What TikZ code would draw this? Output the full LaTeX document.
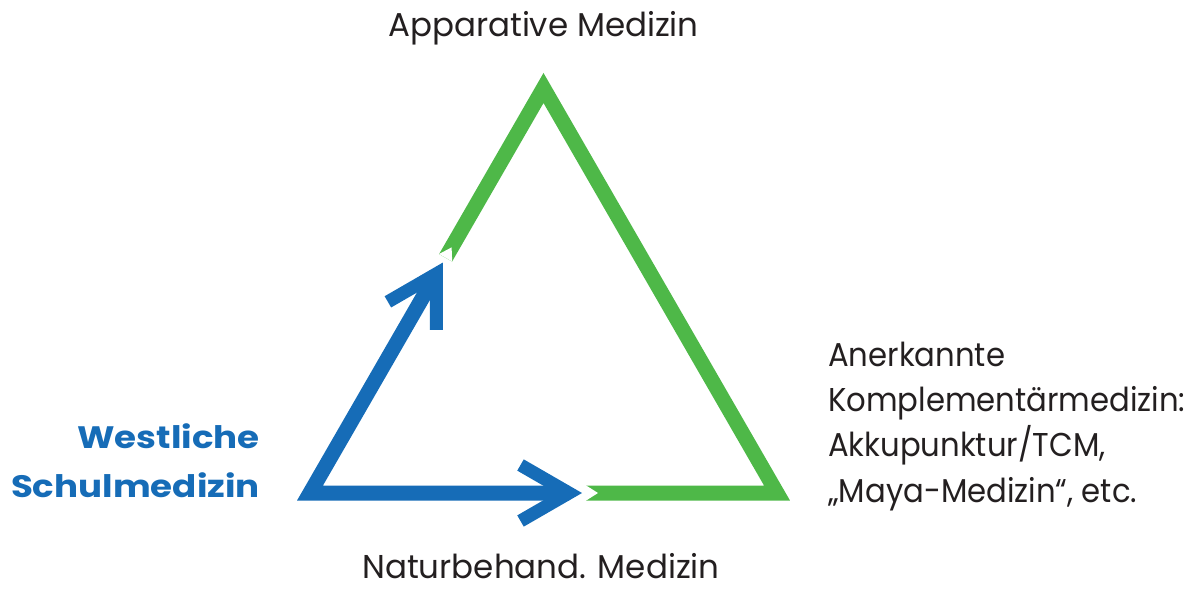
\documentclass[tikz,border=0pt]{standalone}
\usepackage{fontspec}
\setmainfont{Poppins}
\newfontfamily\regfont{Poppins}[FakeStretch=0.93]
\newfontfamily\widefont{Poppins}[FakeStretch=0.985]
\newfontfamily\boldfont{Poppins}[FakeStretch=1.15]
\usetikzlibrary{calc}
\definecolor{tgreen}{RGB}{78,184,72}
\definecolor{tblue}{RGB}{22,108,183}
\definecolor{ttext}{RGB}{35,31,32}
\begin{document}
\begin{tikzpicture}[x=1pt,y=-1pt,
  greenline/.style={draw=tgreen,line width=15pt,line join=miter,line cap=butt},
  blueline/.style={draw=tblue,line width=15pt,line join=miter,line cap=butt},
  bluehead/.style={draw=tblue,line width=13pt,line join=miter,line cap=butt},
  notch/.style={fill=white,draw=none},
  lbl/.style={text=ttext,font=\regfont\fontsize{33}{45.3}\selectfont,inner sep=0pt},
  vlbl/.style={text=ttext,font=\widefont\fontsize{33}{45.3}\selectfont,inner sep=0pt},
  blbl/.style={text=tblue,font=\boldfont\fontsize{31}{49}\selectfont\bfseries,inner sep=0pt}]
\useasboundingbox (0,0) rectangle (1196,591);
% triangle vertices (centre line)
\coordinate (A) at (543.5,88);
\coordinate (B) at (310,493);
\coordinate (C) at (777,493);
% blue arrow vertices and green starts
\coordinate (V1) at ($(B)!253pt!(A)$);
\coordinate (V2) at (569,493);
\coordinate (G1) at ($(B)!271.5pt!(A)$);
\coordinate (G2) at (586,493);
% green part
\draw[greenline] (G1) -- (A) -- (C) -- (G2);
\fill[notch] ($(G1)!7.6pt!90:(A)$) -- ($(G1)!7.6pt!-90:(A)$) -- ($(G1)!12pt!(A)$) -- cycle;
\fill[notch] ($(G2)+(0,-7.6)$) -- ($(G2)+(0,7.6)$) -- ($(G2)+(12,0)$) -- cycle;
% blue part
\draw[blueline] (V1) -- (B) -- (V2);
\draw[bluehead] ($(V1)!56pt!30:(B)$) -- (V1) -- ($(V1)!56pt!-30:(B)$);
\draw[bluehead] ($(V2)!56pt!30:(B)$) -- (V2) -- ($(V2)!56pt!-30:(B)$);
% labels
\node[vlbl,anchor=base] (top) at (543.5,37) {Apparative Medizin};
\node[vlbl,anchor=base] (bottom) at (541,578) {Naturbehand. Medizin};
\node[blbl,anchor=base east,align=right] (west) at (260,497) {Westliche\\Schulmedizin};
\node[lbl,anchor=base west,align=left] (right) at (828,502) {Anerkannte\\Komplementärmedizin:\\Akkupunktur/TCM,\\„Maya-Medizin“, etc.};
\end{tikzpicture}
\end{document}
